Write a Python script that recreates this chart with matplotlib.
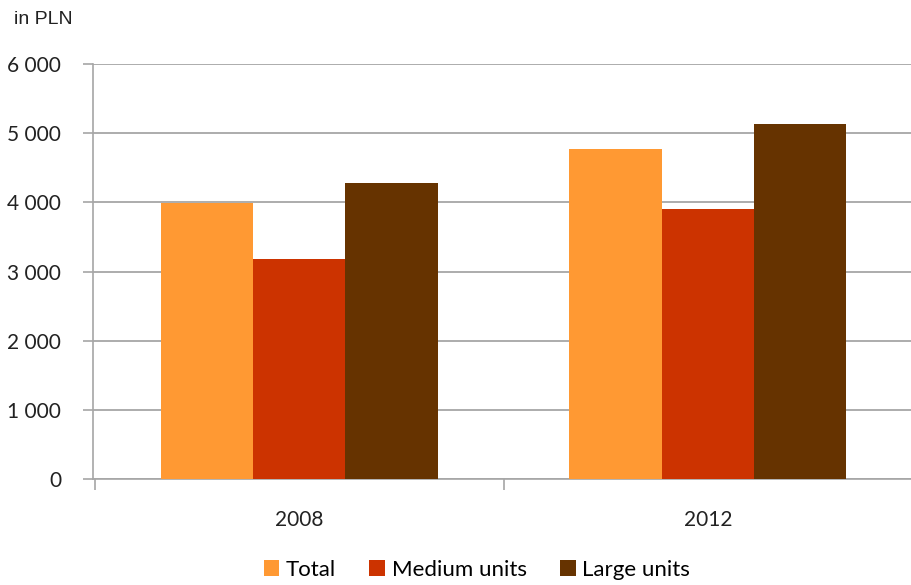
import matplotlib
matplotlib.use("Agg")
import matplotlib.pyplot as plt
import numpy as np

# chart data
years = ["2008", "2012"]
series_names = ["Total", "Medium units", "Large units"]
total = [3985, 4765]
medium = [3175, 3905]
large = [4285, 5130]
colors = ["#FF9933", "#CC3300", "#663300"]
yticks = [0, 1000, 2000, 3000, 4000, 5000, 6000]
ytick_labels = ["0", "1 000", "2 000", "3 000", "4 000", "5 000", "6 000"]

fig = plt.figure(figsize=(9.12, 5.85), dpi=100)
ax = fig.add_axes([93 / 912, 1 - 479 / 585, 1 - 93 / 912, (479 - 64) / 585])

x = np.arange(len(years))
w = 0.226
for i, (vals, name) in enumerate(zip([total, medium, large], series_names)):
    ax.bar(x + (i - 1) * w, vals, w, color=colors[i], label=name, zorder=3)

ax.set_ylim(0, 6000)
ax.set_xlim(-0.505, 1.46)
ax.set_yticks(yticks)
ax.set_yticklabels(ytick_labels, fontsize=15, family="Lato", color="#222222")
ax.grid(axis="y", color="#A6A6A6", linewidth=1.3, zorder=0)

# category boundaries as tick marks, labels in between
ax.set_xticks([-0.5, 0.5, 1.5])
ax.set_xticklabels([])
ax.set_xticks(x, minor=True)
ax.set_xticklabels(years, minor=True, fontsize=15, family="Lato", color="#222222")
ax.tick_params(axis="x", which="minor", length=0, pad=22)
ax.tick_params(axis="x", which="major", length=8, color="#A6A6A6", width=1.2)
ax.tick_params(axis="y", length=7, color="#A6A6A6", width=1.2, pad=16)

for s in ["top", "right"]:
    ax.spines[s].set_visible(False)
ax.spines["left"].set_color("#A6A6A6")
ax.spines["bottom"].set_color("#A6A6A6")
ax.spines["left"].set_linewidth(1.2)
ax.spines["bottom"].set_linewidth(1.2)

fig.text(14 / 912, 1 - 20 / 585, "in PLN", fontsize=14, family="Liberation Sans",
         va="center", ha="left", color="#222222")

fig.legend(loc="center", bbox_to_anchor=(0.523, 1 - 570 / 585), ncol=3, frameon=False,
           prop={"family": "Lato", "size": 16}, handlelength=0.7, handleheight=0.7,
           handletextpad=0.3, columnspacing=1.5)

fig.savefig("out.png", dpi=100)
